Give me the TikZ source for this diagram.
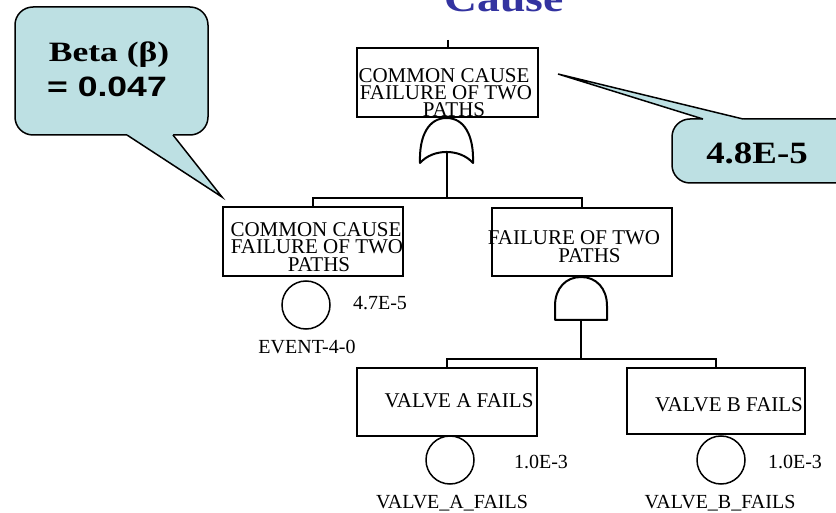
\documentclass[tikz,border=0pt]{standalone}
\usepackage{graphicx}
\usepackage{fontspec}
\setmainfont{Liberation Serif}
\newfontfamily\arialfont{Liberation Sans}
\definecolor{cfill}{RGB}{189,224,227}
\definecolor{titleblue}{RGB}{51,51,160}
\begin{document}
\begin{tikzpicture}[x=1pt,y=-1pt,
  box/.style={draw,line width=2pt,inner sep=0pt},
  txt/.style={font=\fontsize{21}{17}\selectfont,inner sep=0pt,anchor=base},
  lbl/.style={font=\fontsize{20}{24}\selectfont,inner sep=0pt,anchor=base},
  ev/.style={draw,circle,line width=1.5pt,minimum size=48pt,inner sep=0pt},
  gate/.style={draw,line width=2pt,line join=round},
  conn/.style={line width=2pt},
  callout/.style={draw,fill=cfill,line width=1.5pt,rounded corners=18pt},
  cline/.style={line width=1.5pt}]
\useasboundingbox (0,0) rectangle (836,513);
\clip (0,0) rectangle (836,513);

% title
\node[anchor=base,inner sep=0pt,text=titleblue,font=\bfseries\fontsize{38}{40}\selectfont] (title) at (504,12) {\scalebox{1.2}[1]{Cause}};

% boxes
\node[box,minimum width=181pt,minimum height=69pt] (top) at (447.5,82.5) {};
\node[txt] (top1) at (444,83) {COMMON CAUSE};
\node[txt] (top2) at (446,100) {FAILURE OF TWO};
\node[txt] (top3) at (454,117) {PATHS};

\node[box,minimum width=180pt,minimum height=69pt] (lbox) at (313,241.5) {};
\node[txt] (l1) at (316,237) {COMMON CAUSE};
\node[txt] (l2) at (317,254) {FAILURE OF TWO};
\node[txt] (l3) at (319,272) {PATHS};

\node[box,minimum width=180pt,minimum height=68pt] (rbox) at (582,242) {};
\node[txt] (r1) at (574,245) {FAILURE OF TWO};
\node[txt] (r2) at (589.5,263) {PATHS};

\node[box,minimum width=180pt,minimum height=68pt] (abox) at (447,402) {};
\node[txt] (a1) at (459,407) {VALVE A FAILS};

\node[box,minimum width=178pt,minimum height=66pt] (bbox) at (716,401) {};
\node[txt] (b1) at (729,411) {VALVE B FAILS};

% basic events
\node[ev] (e0) at (306,305) {};
\node[ev] (ea) at (450,460) {};
\node[ev] (eb) at (721,460) {};
\node[lbl] (p0) at (380,309) {4.7E-5};
\node[lbl] (n0) at (307,353) {EVENT-4-0};
\node[lbl] (pa) at (541,468) {1.0E-3};
\node[lbl] (na) at (452,508) {VALVE\_A\_FAILS};
\node[lbl] (pb) at (795,468) {1.0E-3};
\node[lbl] (nb) at (720,508) {VALVE\_B\_FAILS};

% gates
\coordinate (orapex) at (446.5,118);
\coordinate (orout) at (446.5,152);
\draw[gate] (420,163) .. controls (419,135) and (429,118) .. (orapex)
  .. controls (464,118) and (474,135) .. (473,163)
  .. controls (460,148.3) and (433,148.3) .. cycle;
\coordinate (andapex) at (581,277);
\coordinate (andout) at (581,320);
\draw[gate] (555,320) -- (555,306) .. controls (555,288) and (566,277) .. (andapex)
  .. controls (596,277) and (607,288) .. (607,306) -- (607,320) -- cycle;

% connectors
\coordinate (topin) at (447.5,40);
\draw[conn] (topin) -- (top.north);
\coordinate (bus1) at (446.5,198);
\draw[conn] (orout) -- (bus1);
\draw[conn] (lbox.north) |- (bus1) -| (rbox.north);
\coordinate (bus2) at (581,359);
\draw[conn] (andout) -- (bus2);
\draw[conn] (abox.north) |- (bus2) -| (bbox.north);

% callout beta
\draw[callout] (15,7) rectangle (208,135);
\fill[cfill] (127,132) -- (173,132) -- (173,135) -- (222,197) -- (127,135) -- cycle;
\draw[cline] (127,135) -- (222,197) -- (173,135);
\node[anchor=base,inner sep=0pt,font=\bfseries\fontsize{28}{30}\selectfont] (beta1) at (109,62) {\scalebox{1.27}[1]{Beta (β)}};
\node[anchor=base,inner sep=0pt,font=\arialfont\bfseries\fontsize{28}{30}\selectfont] (beta2) at (107,97) {\scalebox{1.27}[1]{= 0.047}};

% callout value
\draw[callout] (672,119) rectangle (900,183);
\fill[cfill] (703,122) -- (743,122) -- (743,119) -- (558,74) -- (703,119) -- cycle;
\draw[cline] (703,119) -- (558,74) -- (743,119);
\node[anchor=base,inner sep=0pt,font=\bfseries\fontsize{31}{33}\selectfont] (cval) at (757,164) {\scalebox{1.19}[1]{4.8E-5}};
\end{tikzpicture}
\end{document}
